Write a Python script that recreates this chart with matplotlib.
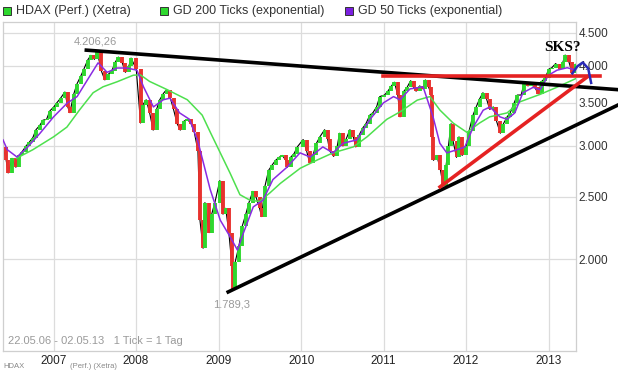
import matplotlib
matplotlib.use("Agg")
import matplotlib.pyplot as plt
import matplotlib.dates as mdates
from matplotlib.patches import Rectangle
from matplotlib.ticker import FixedLocator, NullLocator
import pandas as pd

# HDAX closes, read off the chart roughly twice a month
price_dates = [
    "2006-05-22", "2006-06-05", "2006-06-14", "2006-07-01", "2006-07-18", "2006-08-01", "2006-08-15",
    "2006-09-01", "2006-09-15", "2006-10-01", "2006-10-15", "2006-11-01", "2006-11-15", "2006-12-01",
    "2006-12-15", "2007-01-02", "2007-01-15", "2007-02-01", "2007-02-20", "2007-03-05", "2007-03-14",
    "2007-04-01", "2007-04-15", "2007-05-01", "2007-05-15", "2007-06-01", "2007-06-15", "2007-07-01",
    "2007-07-13", "2007-08-01", "2007-08-16", "2007-09-01", "2007-09-15", "2007-10-01", "2007-10-15",
    "2007-11-01", "2007-11-15", "2007-12-01", "2007-12-10", "2008-01-02", "2008-01-21", "2008-02-01",
    "2008-02-15", "2008-03-01", "2008-03-17", "2008-04-01", "2008-04-15", "2008-05-01", "2008-05-15",
    "2008-06-01", "2008-06-15", "2008-07-01", "2008-07-15", "2008-08-01", "2008-08-15", "2008-09-01",
    "2008-09-15", "2008-10-01", "2008-10-10", "2008-10-24", "2008-11-01", "2008-11-20", "2008-12-01",
    "2008-12-15", "2009-01-06", "2009-01-20", "2009-02-01", "2009-02-15", "2009-03-01", "2009-03-06",
    "2009-03-15", "2009-04-01", "2009-04-15", "2009-05-01", "2009-05-15", "2009-06-01", "2009-06-15",
    "2009-07-01", "2009-07-10", "2009-07-25", "2009-08-10", "2009-08-25", "2009-09-10", "2009-09-25",
    "2009-10-10", "2009-10-25", "2009-11-01", "2009-11-15", "2009-12-01", "2009-12-15", "2010-01-10",
    "2010-01-25", "2010-02-08", "2010-02-22", "2010-03-10", "2010-03-25", "2010-04-15", "2010-04-28",
    "2010-05-07", "2010-05-25", "2010-06-10", "2010-06-20", "2010-07-05", "2010-07-20", "2010-08-05",
    "2010-08-20", "2010-08-31", "2010-09-15", "2010-10-01", "2010-10-15", "2010-11-01", "2010-11-15",
    "2010-12-01", "2010-12-15", "2011-01-05", "2011-01-20", "2011-02-05", "2011-02-18", "2011-03-05",
    "2011-03-15", "2011-04-01", "2011-04-15", "2011-05-01", "2011-05-15", "2011-05-25", "2011-06-10",
    "2011-06-25", "2011-07-05", "2011-07-20", "2011-08-01", "2011-08-05", "2011-08-10", "2011-08-25",
    "2011-09-10", "2011-09-22", "2011-10-05", "2011-10-15", "2011-10-27", "2011-11-05", "2011-11-20",
    "2011-12-01", "2011-12-15", "2012-01-02", "2012-01-15", "2012-02-01", "2012-02-15", "2012-03-01",
    "2012-03-16", "2012-04-01", "2012-04-15", "2012-05-01", "2012-05-15", "2012-06-01", "2012-06-15",
    "2012-07-01", "2012-07-15", "2012-08-01", "2012-08-15", "2012-09-01", "2012-09-15", "2012-10-01",
    "2012-10-15", "2012-11-01", "2012-11-15", "2012-12-01", "2012-12-15", "2013-01-02", "2013-01-15",
    "2013-02-01", "2013-02-20", "2013-03-05", "2013-03-15", "2013-04-01", "2013-04-15", "2013-05-02",
]
price_close = [
    2990, 2850, 2724, 2870, 2780, 2900, 2940,
    3000, 3040, 3090, 3180, 3230, 3290, 3300,
    3400, 3450, 3500, 3560, 3640, 3450, 3380,
    3620, 3750, 3850, 3950, 4080, 4150, 4090,
    4206, 3920, 3800, 3880, 3920, 4050, 4124,
    4040, 3905, 4000, 4110, 3950, 3257, 3480,
    3540, 3380, 3175, 3420, 3540, 3620, 3670,
    3560, 3420, 3250, 3175, 3280, 3300, 3250,
    3150, 2950, 2300, 2080, 2450, 2200, 2350,
    2450, 2650, 2350, 2400, 2200, 1950, 1800,
    1980, 2100, 2250, 2350, 2450, 2550, 2500,
    2400, 2330, 2600, 2750, 2800, 2850, 2880,
    2900, 2850, 2780, 2880, 2920, 2990, 3070,
    2950, 2820, 2900, 3030, 3100, 3180, 3080,
    2950, 2890, 3000, 3140, 3000, 3080, 3180,
    3100, 2990, 3120, 3200, 3250, 3350, 3380,
    3450, 3580, 3600, 3650, 3720, 3770, 3600,
    3330, 3650, 3700, 3790, 3700, 3650, 3720,
    3680, 3800, 3700, 3600, 3100, 2850, 2900,
    2750, 2600, 2800, 3000, 3250, 3050, 2880,
    3100, 2900, 3000, 3170, 3350, 3450, 3550,
    3630, 3550, 3420, 3450, 3280, 3140, 3250,
    3330, 3380, 3500, 3600, 3600, 3760, 3720,
    3740, 3700, 3620, 3780, 3820, 3950, 3970,
    4030, 3950, 4050, 4155, 4050, 3900, 4020,
]

# GD 200 (exponential)
gd200_dates = [
    "2006-07-20", "2006-10-01", "2007-01-01", "2007-03-01", "2007-04-25", "2007-06-25", "2007-08-08",
    "2007-10-09", "2007-12-20", "2008-01-20", "2008-03-01", "2008-05-18", "2008-08-15", "2008-10-20",
    "2008-11-25", "2009-01-08", "2009-02-20", "2009-04-05", "2009-05-20", "2009-07-01", "2009-08-15",
    "2009-10-01", "2009-12-28", "2010-03-15", "2010-05-22", "2010-08-20", "2010-10-20", "2011-01-15",
    "2011-03-15", "2011-05-30", "2011-07-25", "2011-09-08", "2011-11-05", "2012-01-05", "2012-03-01",
    "2012-04-15", "2012-07-01", "2012-08-28", "2012-11-25", "2013-02-05", "2013-05-02",
]
gd200_values = [
    2870, 2960, 3100, 3210, 3410, 3630, 3708,
    3775, 3865, 3870, 3780, 3670, 3540, 3350,
    3150, 2927, 2724, 2520, 2470, 2460, 2535,
    2624, 2770, 2855, 2927, 2990, 3100, 3300,
    3390, 3535, 3580, 3410, 3257, 3150, 3257,
    3330, 3377, 3515, 3610, 3700, 3820,
]

# GD 50 (exponential)
gd50_dates = [
    "2006-05-22", "2006-06-10", "2006-07-23", "2006-09-05", "2006-11-02", "2007-01-01", "2007-03-03",
    "2007-04-15", "2007-05-30", "2007-07-17", "2007-08-26", "2007-10-09", "2007-11-22", "2008-01-05",
    "2008-02-03", "2008-03-18", "2008-05-01", "2008-05-30", "2008-07-12", "2008-08-25", "2008-10-01",
    "2008-11-24", "2009-01-08", "2009-02-21", "2009-03-25", "2009-04-20", "2009-06-03", "2009-07-16",
    "2009-08-29", "2009-10-30", "2009-12-27", "2010-02-10", "2010-04-07", "2010-05-22", "2010-07-06",
    "2010-09-05", "2010-11-02", "2010-12-31", "2011-02-14", "2011-03-15", "2011-04-28", "2011-06-25",
    "2011-08-08", "2011-09-07", "2011-10-08", "2011-11-22", "2011-12-27", "2012-02-02", "2012-03-17",
    "2012-04-16", "2012-05-30", "2012-07-01", "2012-08-04", "2012-09-09", "2012-10-24", "2012-11-24",
    "2012-12-31", "2013-02-07", "2013-03-24", "2013-05-02",
]
gd50_values = [
    3066, 2960, 2884, 2980, 3140, 3330, 3500,
    3580, 3797, 4040, 3905, 3966, 3966, 3935,
    3708, 3450, 3540, 3560, 3377, 3300, 3050,
    2570, 2300, 2166, 2067, 2195, 2412, 2470,
    2660, 2780, 2927, 2884, 2990, 2927, 3030,
    3066, 3300, 3500, 3580, 3540, 3680, 3708,
    3330, 3030, 2927, 2960, 2990, 3210, 3410,
    3450, 3330, 3300, 3377, 3630, 3700, 3670,
    3865, 3935, 3970, 3935,
]

year_ticks = ["2007", "2008", "2009", "2010", "2011", "2012", "2013"]
value_ticks = [2000, 2500, 3000, 3500, 4000, 4500]
value_labels = ["2.000", "2.500", "3.000", "3.500", "4.000", "4.500"]

pd_dates = pd.to_datetime(price_dates)
font = "Liberation Sans"

fig = plt.figure(figsize=(6.18, 3.70), dpi=100)
ax = fig.add_axes([3 / 618, 19 / 370, 573 / 618, 329 / 370])
ax.set_yscale("log")
ax.set_ylim(1440, 4676)
ax.set_xlim(pd.Timestamp("2006-05-22"), pd.Timestamp("2013-05-02"))

# grid
grid_c = "#dcdcdc"
for v in value_ticks:
    ax.axhline(v, color=grid_c, lw=0.9, zorder=0)
for y in year_ticks:
    ax.axvline(pd.Timestamp(y + "-01-01"), color=grid_c, lw=0.9, zorder=0)
for s in ax.spines.values():
    s.set_color("#cfcfcf")
    s.set_linewidth(0.9)

# candles (prev close -> close)
ax.plot(pd_dates, price_close, color="black", lw=0.8, zorder=2)
cols = ["#2ed82e" if c >= p else "#e8322e" for p, c in zip(price_close[:-1], price_close[1:])]
ax.vlines(pd_dates[1:], price_close[:-1], price_close[1:], colors=cols, lw=2.8, zorder=3)

ax.plot(pd.to_datetime(gd200_dates), gd200_values, color="#4ee04e", lw=1.1, zorder=4)
ax.plot(pd.to_datetime(gd50_dates), gd50_values, color="#8a2be2", lw=1.1, zorder=4)

# drawn trend lines
T = pd.Timestamp
ax.plot([T("2007-05-26"), T("2013-11-04")], [4228, 3670], color="black", lw=2.6, clip_on=False, zorder=6)
ax.plot([T("2009-02-12"), T("2013-11-04")], [1779, 3474], color="black", lw=2.6, clip_on=False, zorder=6)
ax.plot([T("2010-12-31"), T("2013-08-17")], [3850, 3850], color="#e52222", lw=2.6, clip_on=False, zorder=7)
ax.plot([T("2011-09-08"), T("2013-06-20")], [2591, 3840], color="#e52222", lw=2.6, clip_on=False, zorder=7)
ax.plot([T("2013-04-16"), T("2013-05-08"), T("2013-06-01"), T("2013-06-25"), T("2013-07-08")],
        [3890, 3990, 4045, 3960, 3760], color="#2a2ab8", lw=1.8, clip_on=False, zorder=8)
ax.text(T("2013-03-01"), 4265, "SKS?", family="Liberation Serif", fontweight="bold",
        fontsize=11, ha="center", va="center", zorder=9)

ax.text(T("2007-07-06"), 4357, "4.206,26", color="#9a9a9a", fontsize=8, family=font,
        ha="center", va="center")
ax.text(T("2009-02-25"), 1698, "1.789,3", color="#9a9a9a", fontsize=8, family=font,
        ha="center", va="center")
ax.text(0.009, 0.03, "22.05.06 - 02.05.13   1 Tick = 1 Tag", transform=ax.transAxes,
        color="#9a9a9a", fontsize=8, family=font, ha="left", va="center")

# axes ticks
ax.yaxis.set_major_locator(FixedLocator(value_ticks))
ax.yaxis.set_minor_locator(NullLocator())
ax.set_yticklabels(value_labels)
ax.yaxis.tick_right()
ax.xaxis.set_major_locator(FixedLocator([mdates.date2num(T(y + "-01-01")) for y in year_ticks]))
ax.set_xticklabels(year_ticks)
ax.tick_params(axis="both", length=0, labelsize=8.5, labelcolor="#222222")
ax.tick_params(axis="y", pad=2, labelcolor="#333333")
ax.tick_params(axis="x", pad=3)
for lbl in ax.get_xticklabels() + ax.get_yticklabels():
    lbl.set_family(font)

# legend row
legend_items = [("HDAX (Perf.) (Xetra)", "#2ed82e", 3), ("GD 200 Ticks (exponential)", "#2ed82e", 160),
                ("GD 50 Ticks (exponential)", "#7a1fe0", 345)]
for name, c, px in legend_items:
    fig.add_artist(Rectangle((px / 618, (370 - 15) / 370), 8 / 618, 8 / 370, transform=fig.transFigure,
                             facecolor=c, edgecolor="#333333", lw=0.7))
    fig.text((px + 13) / 618, (370 - 11) / 370, name, fontsize=9, family=font, color="#333333",
             ha="left", va="center")

# faint footer strip, split around the year labels
fig.text(3 / 618, 4 / 370, "HDAX", fontsize=5.5, family=font,
         color="#888888", ha="left", va="center")
fig.text(70 / 618, 4 / 370, "(Perf.) (Xetra)", fontsize=5.5, family=font,
         color="#888888", ha="left", va="center")

fig.savefig("out.png", dpi=100)
